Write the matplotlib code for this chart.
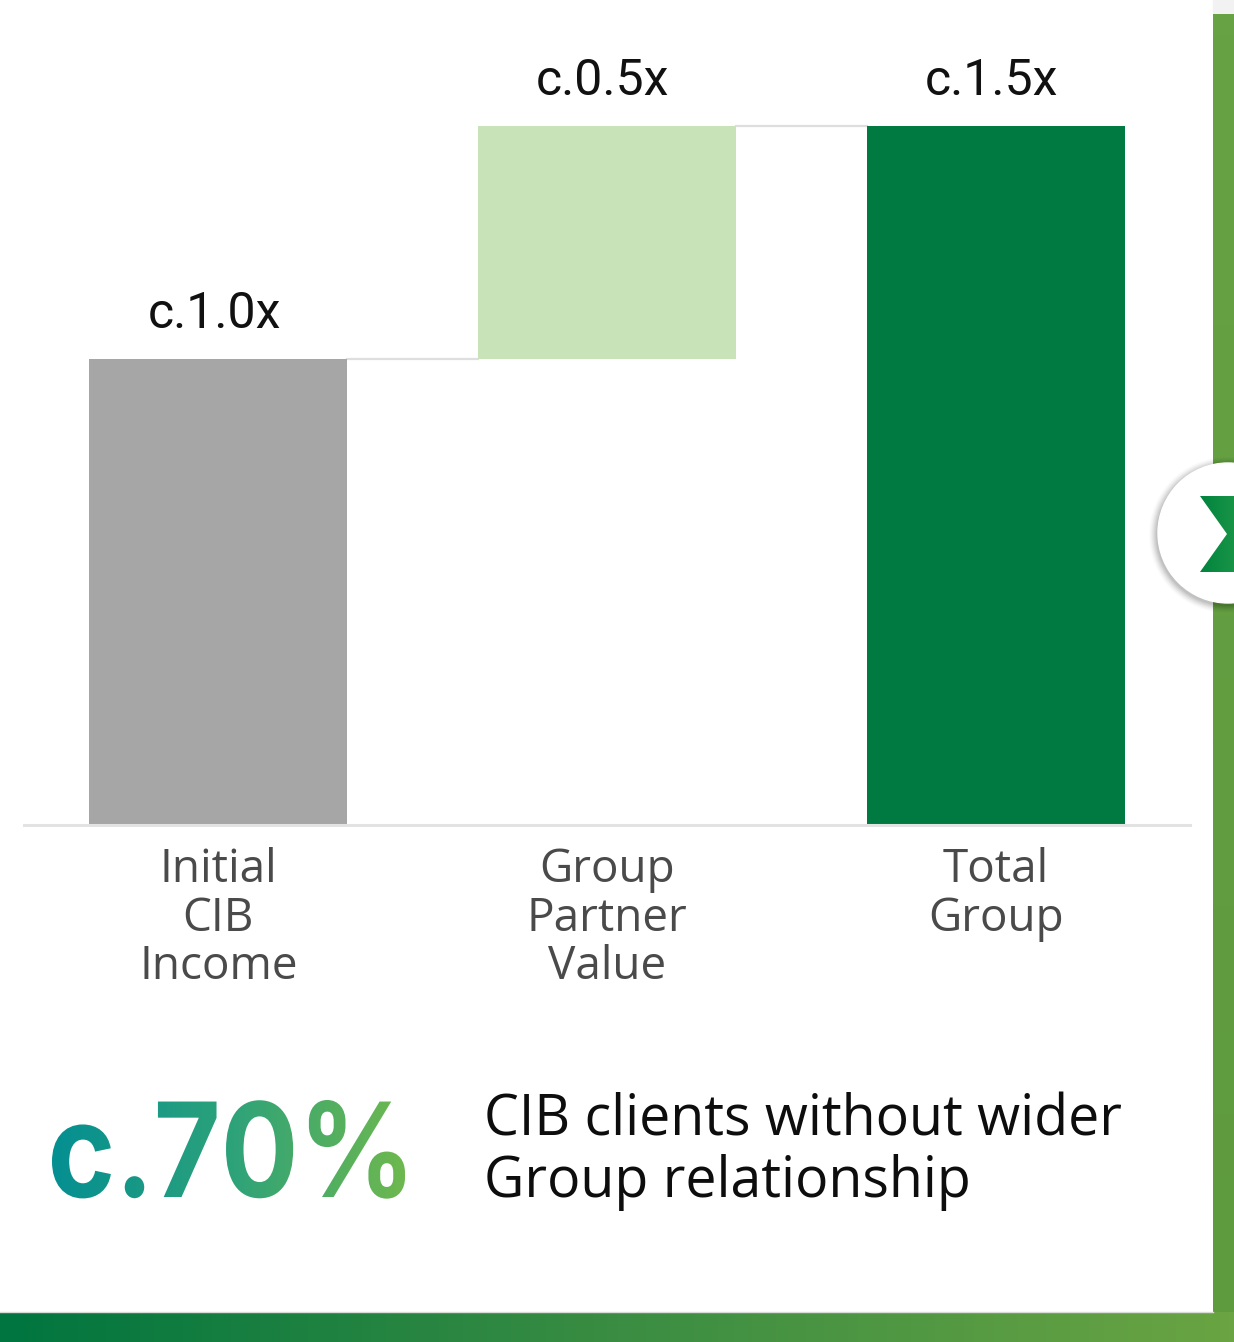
import numpy as np
import matplotlib.pyplot as plt
from matplotlib.patches import Circle, Polygon, PathPatch, Rectangle
from matplotlib.textpath import TextPath
from matplotlib.font_manager import FontProperties
from matplotlib.transforms import Affine2D
from matplotlib.colors import LinearSegmentedColormap

categories = ["Initial\nCIB\nIncome", "Group\nPartner\nValue", "Total\nGroup"]
bar_bottoms = [0.0, 1.0, 0.0]
bar_heights = [1.0, 0.5, 1.5]
value_labels = ["c.1.0x", "c.0.5x", "c.1.5x"]
bar_colors = ["#A6A6A6", "#C9E3B9", "#007A41"]

stat_value = "c.70%"
stat_lines = ["CIB clients without wider", "Group relationship"]

W, H = 1234, 1342
fig = plt.figure(figsize=(W / 100, H / 100), dpi=100)
fig.patch.set_facecolor("white")

# full-figure overlay in pixel units for the frame and decorations
deco = fig.add_axes([0, 0, 1, 1], zorder=0)
deco.set_xlim(0, W)
deco.set_ylim(H, 0)
deco.axis("off")


def px_axes(x0, y0, x1, y1, **kw):
    return fig.add_axes([x0 / W, 1 - y1 / H, (x1 - x0) / W, (y1 - y0) / H], **kw)


# waterfall chart
top_px, base_px = 40, 825
unit_px = 466.0
ax = px_axes(24, top_px, 1190, base_px, zorder=2)
ax.patch.set_alpha(0)
x = np.arange(len(categories))
ax.bar(x, bar_heights, bottom=bar_bottoms, width=0.663, color=bar_colors, zorder=2)
ax.set_xlim(-0.5, 2.5)
ax.set_ylim(0, (base_px - top_px) / unit_px)
for s in ["top", "right", "left"]:
    ax.spines[s].set_visible(False)
ax.spines["bottom"].set_color("#e3e3e3")
ax.spines["bottom"].set_linewidth(2.2)
ax.set_yticks([])
ax.set_xticks([])

# connectors between consecutive bar levels
half = 0.663 / 2
for i in range(len(categories) - 1):
    level = bar_bottoms[i] + bar_heights[i]
    ax.plot([x[i] + half, x[i + 1] - half], [level, level], color="#dedede", lw=1.6, zorder=1)

for i, lab in enumerate(value_labels):
    top = bar_bottoms[i] + bar_heights[i]
    ax.annotate(lab, (x[i], top), xytext=(-3, 22), textcoords="offset points",
                ha="center", va="baseline", fontsize=36, family="Roboto", color="#111111")

for i, cat in enumerate(categories):
    ax.annotate(cat, (x[i], 0), xytext=(0, -16), textcoords="offset points",
                ha="center", va="top", fontsize=33, family="Open Sans", color="#4a4a4a",
                linespacing=1.07)

# gradient "c.70%" figure
tp = TextPath((0, 0), stat_value, size=1, prop=FontProperties(family="Inter", weight="bold"))
ext = tp.get_extents()
bx0, bx1, by_top, by_base = 52, 405, 1100, 1197
sx = (bx1 - bx0) / ext.width
sy = (by_base - by_top) / ext.y1
path = Affine2D().scale(sx, -sy).translate(bx0 - ext.x0 * sx, by_base).transform_path(tp)
patch = PathPatch(path, facecolor="none", edgecolor="none")
deco.add_patch(patch)
grad_cmap = LinearSegmentedColormap.from_list("stat", ["#048F91", "#2CA27A", "#6EB84F"])
im = deco.imshow(np.linspace(0, 1, 256)[None, :], cmap=grad_cmap, aspect="auto",
                 extent=(bx0, bx1, by_base + 5, by_top - 5), zorder=3)
im.set_clip_path(patch)
deco.set_xlim(0, W)
deco.set_ylim(H, 0)

for line, yb in zip(stat_lines, [1135, 1197]):
    deco.text(484, yb, line, fontsize=40, family="Open Sans", color="#0d0d0d",
              va="baseline", ha="left")

# right edge strip and bottom bar
deco.add_patch(Rectangle((1213, 0), 21, 14, color="#f2f2f2", zorder=1))
strip = LinearSegmentedColormap.from_list("strip", ["#5E9A3E", "#67A344"])
deco.imshow(np.linspace(0, 1, 64)[:, None], cmap=strip, aspect="auto",
            extent=(1213, W, 14, H), zorder=1)
bottom = LinearSegmentedColormap.from_list("bottom", ["#00753F", "#3A8D42", "#6AA443"])
deco.imshow(np.linspace(0, 1, 256)[None, :], cmap=bottom, aspect="auto",
            extent=(0, W, 1312, H), zorder=1)
deco.plot([0, 1213], [1312, 1312], color="#d7dcd7", lw=1, zorder=2)

# next button with soft shadow
cx, cy, r = 1228, 533, 70
for k, a in zip(range(8, 0, -1), np.linspace(0.015, 0.05, 8)):
    deco.add_patch(Circle((cx - 1, cy + 2), r + k, color="black", alpha=a, lw=0, zorder=4))
deco.add_patch(Circle((cx, cy), r, color="white", zorder=5))
chev = Polygon([(1200, 496), (1252, 496), (1280, 534), (1252, 572), (1200, 572), (1227, 534)],
               closed=True, facecolor="none", edgecolor="none")
deco.add_patch(chev)
chev_cmap = LinearSegmentedColormap.from_list("chev", ["#00843D", "#3AAA55"])
ci = deco.imshow(np.linspace(0, 1, 64)[None, :], cmap=chev_cmap, aspect="auto",
                 extent=(1200, 1280, 572, 496), zorder=6)
ci.set_clip_path(chev)
deco.set_xlim(0, W)
deco.set_ylim(H, 0)

fig.savefig("out.png", dpi=100)
